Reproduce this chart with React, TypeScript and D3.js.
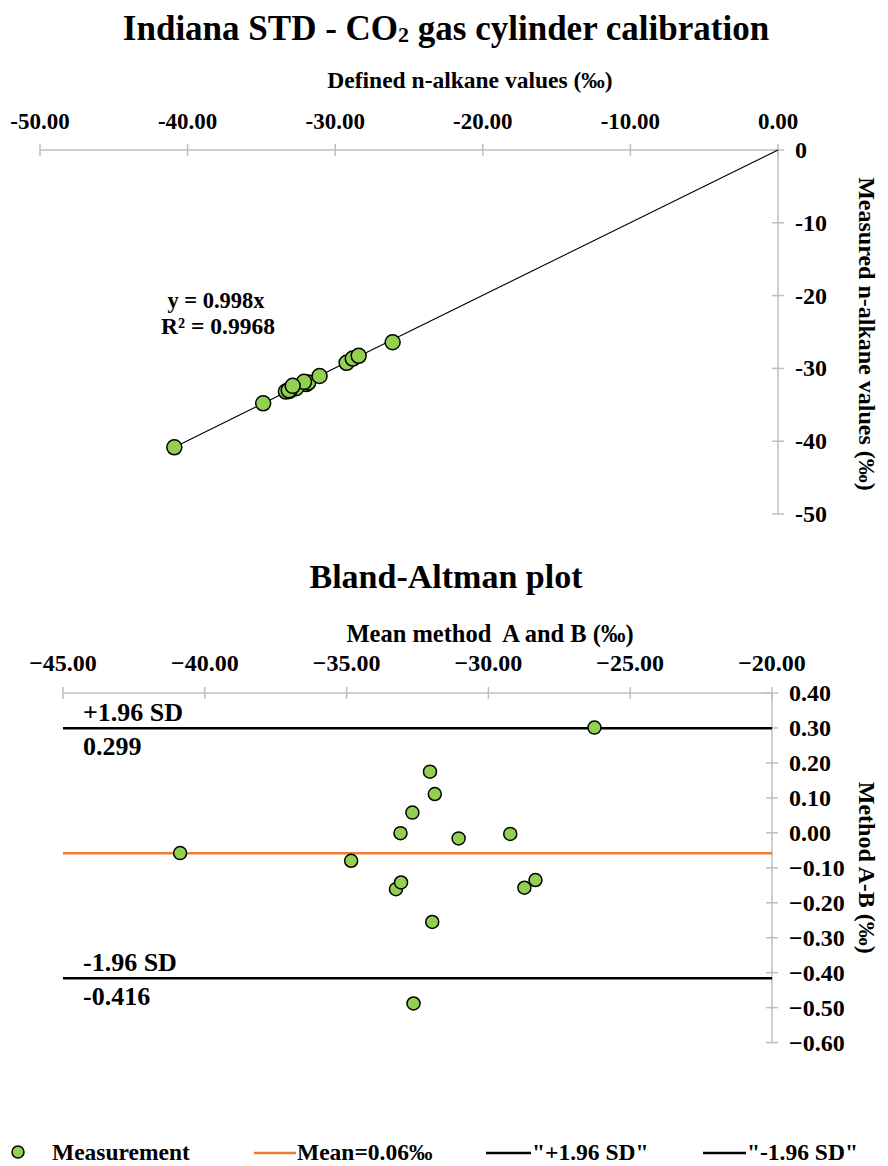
import React from "react";
import * as d3 from "d3";

// Calibration data (‰)
const definedValues = [-26.11, -31.97, -31.83, -32.65, -33.10, -31.06, -29.23, -40.90, -34.88, -33.34, -33.15, -28.81, -28.41, -32.11, -32.88];
const measuredValues = [-26.41, -32.15, -31.95, -32.71, -33.10, -31.04, -29.23, -40.84, -34.80, -33.18, -33.01, -28.65, -28.27, -31.85, -32.40];

// Bland-Altman data
const baMeans = [-26.26, -32.06, -31.89, -32.68, -33.10, -31.05, -29.23, -40.87, -34.84, -33.26, -33.08, -28.73, -28.34, -31.98, -32.64];
const baDiffs = [0.301, 0.175, 0.111, 0.058, -0.001, -0.016, -0.003, -0.058, -0.08, -0.161, -0.142, -0.157, -0.135, -0.255, -0.488];

const meanDiff = -0.0585;
const upperSD = 0.299;
const lowerSD = -0.416;
const slope = 0.998;

const topXTicks = [-50, -40, -30, -20, -10, 0];
const topYTicks = [0, -10, -20, -30, -40, -50];
const botXTicks = [-45, -40, -35, -30, -25, -20];
const botYTicks = [0.4, 0.3, 0.2, 0.1, 0, -0.1, -0.2, -0.3, -0.4, -0.5, -0.6];

const FONT = "'Liberation Serif', 'Times New Roman', serif";
const GREEN = "#92D050";
const ORANGE = "#ED7D31";
const AXIS = "#BFBFBF";

export default function App() {
  const xT = d3.scaleLinear().domain([-50, 0]).range([40, 778]);
  const yT = d3.scaleLinear().domain([-50, 0]).range([514, 150]);
  const xB = d3.scaleLinear().domain([-45, -20]).range([63, 772]);
  const yB = d3.scaleLinear().domain([-0.6, 0.4]).range([1042.6, 693]);

  const trendX = [d3.min(definedValues) as number, 0];
  const trendLine = d3.line<number>().x((d) => xT(d)).y((d) => yT(slope * d));

  const fmt2 = d3.format(".2f"); // d3 uses U+2212 minus
  const hyphen = (s: string) => s.replace("−", "-");

  return (
    <svg width={888} height={1166} style={{ position: "absolute", left: 0, top: 0, background: "#fff" }} fontFamily={FONT} fontWeight="bold">
      {/* ===== Top chart ===== */}
      <text x={446} y={40} textAnchor="middle" fontSize={35}>
        Indiana STD - CO<tspan fontSize={22} dy={2}>2</tspan><tspan dy={-2}> gas cylinder calibration</tspan>
      </text>
      <text x={470} y={88} textAnchor="middle" fontSize={23.5}>Defined n-alkane values (‰)</text>

      {/* x axis (top) */}
      <line x1={xT(-50)} x2={xT(0)} y1={yT(0)} y2={yT(0)} stroke={AXIS} strokeWidth={1.5} />
      {topXTicks.map((t) => (
        <g key={"tx" + t}>
          <line x1={xT(t)} x2={xT(t)} y1={yT(0) - 6} y2={yT(0) + 6} stroke={AXIS} strokeWidth={1.5} />
          <text x={xT(t)} y={129} textAnchor="middle" fontSize={23}>{hyphen(fmt2(t))}</text>
        </g>
      ))}
      {/* y axis (right) */}
      <line x1={xT(0)} x2={xT(0)} y1={yT(0)} y2={yT(-50)} stroke={AXIS} strokeWidth={1.5} />
      {topYTicks.map((t) => (
        <g key={"ty" + t}>
          <line x1={xT(0) - 6} x2={xT(0) + 6} y1={yT(t)} y2={yT(t)} stroke={AXIS} strokeWidth={1.5} />
          <text x={xT(0) + 17} y={yT(t) + 8} textAnchor="start" fontSize={24}>{String(t)}</text>
        </g>
      ))}
      <text transform={`translate(859, ${yT(-25) + 2}) rotate(90)`} textAnchor="middle" fontSize={24}>Measured n-alkane values (‰)</text>

      {/* trendline */}
      <path d={trendLine(trendX) || ""} fill="none" stroke="#000" strokeWidth={1.1} />
      {definedValues.map((d, i) => (
        <circle key={"tp" + i} cx={xT(d)} cy={yT(measuredValues[i])} r={7.5} fill={GREEN} stroke="#000" strokeWidth={1.5} />
      ))}
      <text x={216} y={308} textAnchor="middle" fontSize={22.5}>y = 0.998x</text>
      <text x={218} y={334} textAnchor="middle" fontSize={23.5}>R² = 0.9968</text>

      {/* ===== Bottom chart ===== */}
      <text x={446} y={588} textAnchor="middle" fontSize={34}>Bland-Altman plot</text>
      <text x={490} y={642} textAnchor="middle" fontSize={24.5} style={{ whiteSpace: "pre" }}>Mean method  A and B (‰)</text>

      <line x1={xB(-45)} x2={xB(-20)} y1={yB(0.4)} y2={yB(0.4)} stroke={AXIS} strokeWidth={1.5} />
      {botXTicks.map((t) => (
        <g key={"bx" + t}>
          <line x1={xB(t)} x2={xB(t)} y1={yB(0.4) - 6} y2={yB(0.4) + 6} stroke={AXIS} strokeWidth={1.5} />
          <text x={xB(t)} y={671} textAnchor="middle" fontSize={24}>{fmt2(t)}</text>
        </g>
      ))}
      <line x1={xB(-20)} x2={xB(-20)} y1={yB(0.4)} y2={yB(-0.6)} stroke={AXIS} strokeWidth={1.5} />
      {botYTicks.map((t) => (
        <g key={"by" + t}>
          <line x1={xB(-20) - 6} x2={xB(-20) + 6} y1={yB(t)} y2={yB(t)} stroke={AXIS} strokeWidth={1.5} />
          <text x={xB(-20) + 17} y={yB(t) + 8} textAnchor="start" fontSize={24}>{fmt2(t)}</text>
        </g>
      ))}
      <text transform={`translate(859, ${yB(-0.1)}) rotate(90)`} textAnchor="middle" fontSize={24}>Method A-B (‰)</text>

      {/* limit lines */}
      <line x1={xB(-45)} x2={xB(-20)} y1={yB(meanDiff)} y2={yB(meanDiff)} stroke={ORANGE} strokeWidth={2.5} />
      <line x1={xB(-45)} x2={xB(-20)} y1={yB(upperSD)} y2={yB(upperSD)} stroke="#000" strokeWidth={2.5} />
      <line x1={xB(-45)} x2={xB(-20)} y1={yB(lowerSD)} y2={yB(lowerSD)} stroke="#000" strokeWidth={2.5} />
      <text x={83} y={yB(upperSD) - 7} fontSize={26}>+1.96 SD</text>
      <text x={83} y={yB(upperSD) + 27} fontSize={26}>{String(upperSD)}</text>
      <text x={83} y={yB(lowerSD) - 7} fontSize={26}>-1.96 SD</text>
      <text x={83} y={yB(lowerSD) + 27} fontSize={26}>{String(lowerSD)}</text>

      {baMeans.map((m, i) => (
        <circle key={"bp" + i} cx={xB(m)} cy={yB(baDiffs[i])} r={6.5} fill={GREEN} stroke="#000" strokeWidth={1.5} />
      ))}

      {/* ===== Legend ===== */}
      <circle cx={18} cy={1152} r={6} fill={GREEN} stroke="#000" strokeWidth={1.5} />
      <text x={52} y={1160} fontSize={23.5}>Measurement</text>
      <line x1={254} x2={296} y1={1153} y2={1153} stroke={ORANGE} strokeWidth={2.5} />
      <text x={297} y={1160} fontSize={23.5}>Mean=0.06‰</text>
      <line x1={486} x2={531} y1={1153} y2={1153} stroke="#000" strokeWidth={2.5} />
      <text x={532} y={1160} fontSize={23.5}>"+1.96 SD"</text>
      <line x1={703} x2={746} y1={1153} y2={1153} stroke="#000" strokeWidth={2.5} />
      <text x={747} y={1160} fontSize={23.5}>"-1.96 SD"</text>
    </svg>
  );
}
